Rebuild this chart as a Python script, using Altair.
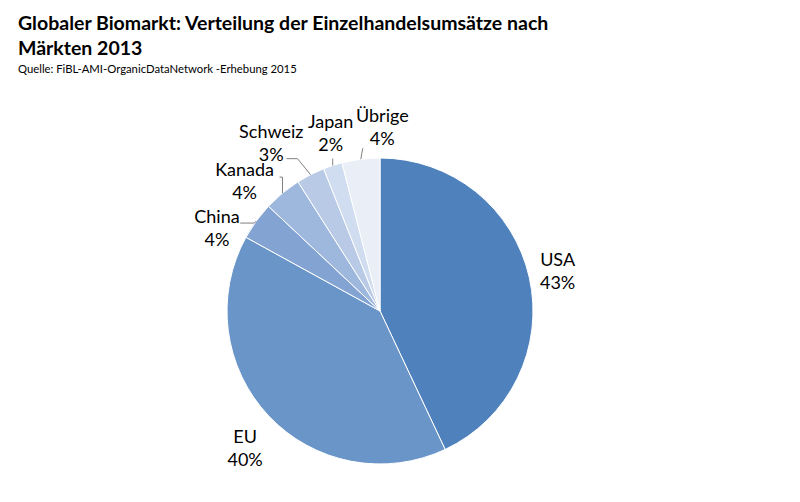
import altair as alt
import pandas as pd

# ---- data ----
categories = ["USA", "EU", "China", "Kanada", "Schweiz", "Japan", "Übrige"]
shares = [43, 40, 4, 4, 3, 2, 4]
title_lines = ["Globaler Biomarkt: Verteilung der Einzelhandelsumsätze nach", "Märkten 2013"]
subtitle = "Quelle: FiBL-AMI-OrganicDataNetwork -Erhebung 2015"

colors = ["#4f81bd", "#6a95c9", "#83a4d3", "#9db7dd", "#b8cae6", "#d0dcef", "#e9eef7"]

df = pd.DataFrame({"cat": categories, "value": shares, "order": list(range(len(categories)))})

FONT = "Lato"
W, H = 780, 482
CX, CY, R = 372, 303, 153

base = alt.Chart(df).transform_window(
    cum="sum(value)", sort=[alt.SortField("order")], frame=[None, 0]
).transform_calculate(
    mid="datum.cum - datum.value / 2",
    label="datum.cat + '\\n' + datum.value + '%'",
)

pie = alt.Chart(df).mark_arc(radius=R, stroke="white", strokeWidth=1).encode(
    theta=alt.Theta("value:Q", stack=True),
    order=alt.Order("order:O"),
    color=alt.Color("cat:N", scale=alt.Scale(domain=categories, range=colors), legend=None),
    x=alt.value(CX),
    y=alt.value(CY),
)

theta_scale = alt.Scale(domain=[0, 100], range=[0, 6.283185307])

# label placement: (angle shift in %, radius px)
label_place = {
    "USA": (0.0, 182),
    "EU": (-0.6, 192),
    "China": (-2.5, 183),
    "Kanada": (-1.8, 188),
    "Schweiz": (-1.65, 200),
    "Japan": (0.7, 185),
    "Übrige": (2.2, 184),
}

layers = [pie]
for c in categories:
    dth, rad = label_place[c]
    t = base.transform_filter(alt.datum.cat == c).transform_calculate(
        lth=f"datum.mid + ({dth})"
    ).mark_text(
        radius=rad, font=FONT, fontSize=18, lineHeight=23, lineBreak="\n",
        align="center", baseline="middle", color="#000000", dy=-10,
    ).encode(
        theta=alt.Theta("lth:Q", scale=theta_scale, stack=None),
        text="label:N",
        x=alt.value(CX),
        y=alt.value(CY),
    )
    layers.append(t)

# leader lines: offsets (elbow, end) relative to pie-edge point at slice mid-angle
leaders = {
    "China": ((-2, 2), (-16, 2)),
    "Kanada": ((0, -16), (-3, -16)),
    "Schweiz": ((-13, -16), (-24, -16)),
    "Japan": ((0, -4), (0, -7)),
    "Übrige": ((1, -6), (2, -11)),
}
xs = alt.Scale(domain=[0, W], range=[0, W])
ys = alt.Scale(domain=[0, H], range=[0, H])
for c, ((ex, ey), (nx, ny)) in leaders.items():
    seg = base.transform_filter(alt.datum.cat == c).transform_calculate(
        ang="datum.mid * 2 * PI / 100",
    ).transform_calculate(
        px=f"{CX} + {R} * sin(datum.ang)",
        py=f"{CY} - {R} * cos(datum.ang)",
    ).transform_calculate(
        qx=f"datum.px + ({ex})",
        qy=f"datum.py + ({ey})",
        rx=f"datum.px + ({nx})",
        ry=f"datum.py + ({ny})",
    )
    r1 = seg.mark_rule(color="#7f7f7f", strokeWidth=1).encode(
        x=alt.X("px:Q", scale=xs, axis=None), y=alt.Y("py:Q", scale=ys, axis=None),
        x2="qx:Q", y2="qy:Q",
    )
    r2 = seg.mark_rule(color="#7f7f7f", strokeWidth=1).encode(
        x=alt.X("qx:Q", scale=xs, axis=None), y=alt.Y("qy:Q", scale=ys, axis=None),
        x2="rx:Q", y2="ry:Q",
    )
    layers += [r1, r2]

one = alt.Chart(pd.DataFrame({"t1": [title_lines[0]], "t2": [title_lines[1]], "s": [subtitle]}))
layers.append(one.mark_text(font=FONT, fontSize=19.5, fontWeight="bold", align="left",
                            baseline="alphabetic", color="#000000").encode(
    text="t1:N", x=alt.value(10), y=alt.value(22)))
layers.append(one.mark_text(font=FONT, fontSize=19.5, fontWeight="bold", align="left",
                            baseline="alphabetic", color="#000000").encode(
    text="t2:N", x=alt.value(10), y=alt.value(47)))
layers.append(one.mark_text(font=FONT, fontSize=11.3, align="left",
                            baseline="alphabetic", color="#000000").encode(
    text="s:N", x=alt.value(10), y=alt.value(65)))

chart = alt.layer(*layers).resolve_scale(theta="independent").properties(
    width=W, height=H, padding=0, autosize=alt.AutoSizeParams(type="none"),
).configure_view(strokeWidth=0, stroke="transparent", fill="white")

chart.save("out.html", embed_options={"renderer": "svg", "actions": False})
